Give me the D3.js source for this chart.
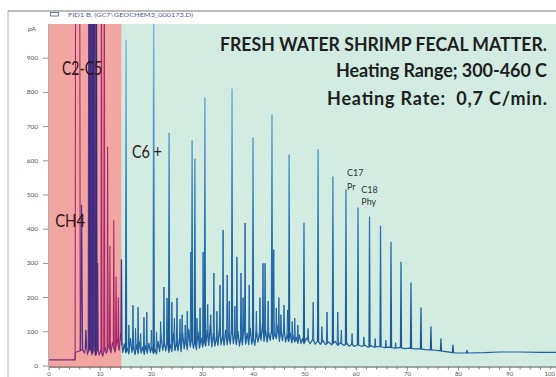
<!DOCTYPE html>
<html><head><meta charset="utf-8">
<script src="https://cdn.jsdelivr.net/npm/d3@7"></script>
<style>body{margin:0;background:#fff;} svg{display:block;} text{white-space:pre;}</style>
</head><body>
<script>
// ---------- data ----------
const xTicks = [0,10,20,30,40,50,60,70,80,90,100];
const yTicks = [0,100,200,300,400,500,600,700,800,900];
const regionBreak = 14.2;   // minutes: C2-C5 zone | C6+ zone

// noisy baseline of the FID trace (time in min, signal in pA)
const baseTimes  = [0,5.1,5.15,6.6,6.9,7.3,7.5,8.1,8.4,8.8,9.1,9.5,9.8,10.1,10.5,11.0,11.2,11.7,12.1,12.4,12.9,13.3,13.7,14.0,
  14.4,14.7,15.0,15.3,15.6,15.9,16.2,16.5,16.8,17.1,17.4,17.7,18.0,18.3,18.6,18.9,19.2,19.5,19.8,20.1,20.4,20.7,21.0,21.3,21.6,21.9,
  22.2,22.5,22.8,23.1,23.4,23.7,24.0,24.3,24.6,24.9,25.2,25.5,25.8,26.1,26.4,26.7,27.0,27.3,27.6,27.9,28.2,28.5,28.8,29.1,29.4,29.7,
  30.0,30.3,30.6,30.9,31.2,31.5,31.8,32.1,32.4,32.7,33.0,33.3,33.6,33.9,34.2,34.5,34.8,35.1,35.4,35.7,36.0,36.3,36.6,36.9,37.2,37.5,
  37.8,38.1,38.4,38.7,39.0,39.3,39.6,39.9,40.2,40.5,40.8,41.1,41.4,41.7,42.0,42.3,42.6,42.9,43.2,43.5,43.8,44.1,44.4,44.7,45.0,45.3,
  45.6,45.9,46.2,46.5,46.8,47.1,47.4,47.7,48.0,48.3,48.6,48.9,49.2,49.5,49.8,50.3,51.0,51.5,52.0,52.5,53.0,53.5,54.0,54.6,55.2,55.9,
  56.4,56.9,57.6,58.2,58.6,59.2,59.6,60.3,61.1,61.7,62.3,63.0,63.5,64.5,65.5,66.5,67.5,68.5,69.5,70.5,71.5,72.5,73.5,74.5,75.5,76.5,
  77.5,78.5,79.5,82,85,88,92,96,100];
const baseValues = [18,18,40,47,38,62,35,55,32,58,30,50,33,45,30,55,36,60,38,70,40,80,45,95,
  40,65,38,52,35,80,40,58,33,62,36,70,38,55,34,60,37,66,40,55,36,48,35,72,42,88,
  46,70,44,78,40,62,42,95,45,70,44,85,42,98,50,80,48,108,55,88,52,75,48,100,52,82,
  55,78,58,105,60,118,56,95,58,85,60,112,62,90,60,105,62,95,64,118,65,98,62,102,58,88,
  62,128,64,96,62,110,64,85,60,100,70,95,75,122,72,105,70,98,75,110,78,96,80,118,72,105,
  74,112,70,92,72,96,68,88,70,84,66,90,66,80,65,82,65,78,64,74,63,75,62,70,62,72,
  60,68,60,66,58,64,57,62,57,61,55,59,55,57,54,55,52,54,51,52,50,50,48,47,46,44,
  42,40,38,38,39,41,41,40,40];

// light gases zone (CH4, C2-C5): time, height (pA), half-width (min), colour kind
const lightT = [5.6, 6.35, 7.2, 7.8, 8.1, 8.4, 8.65, 8.95, 9.25, 9.5, 10.25, 10.8, 11.45, 11.9, 12.65, 13.1, 13.55, 14.15];
const lightH = [6000, 470, 105, 1500, 2200, 1700, 2600, 1800, 1300, 300, 1400, 1300, 640, 350, 425, 260, 200, 310];
const lightW = [0.5, 0.2, 0.12, 0.12, 0.14, 0.12, 0.14, 0.12, 0.12, 0.1, 0.1, 0.1, 0.1, 0.1, 0.1, 0.1, 0.1, 0.1];
const lightKind = ['m','p','p','p','n','p','n','p','n','p','m','m','m','m','m','m','m','p'];

// C6+ main peaks: time, height (pA)
const mainT = [15.05,20.45,23.45,27.95,28.5,30.45,35.75,39.85,43.55,46.9,49.8,52.55,55.45,58.0,60.35,62.6,64.75,66.8,68.75,70.7,72.65,74.6,76.55,78.9,81.65];
const mainH = [953,1300,681,658,605,784,810,667,734,617,418,632,553,515,462,436,409,362,304,243,170,114,79,61,46];

// C6+ minor peaks: time, height (pA)
const minorT = [15.6,16.4,16.9,17.4,17.9,18.55,19.1,20.0,21.0,21.8,22.45,23.05,24.0,24.5,25.0,25.6,26.0,26.6,27.0,27.7,28.9,29.5,30.1,31.0,31.6,32.2,32.8,33.4,34.0,34.8,35.2,36.3,36.7,37.5,37.9,38.3,39.1,40.5,41.2,41.8,42.2,42.8,43.9,44.4,44.9,45.3,45.9,46.6,47.5,48.0,48.6,50.6,51.6,53.3,54.3,56.4,57.1,59.2,61.5,63.7,65.8,67.7];
const minorH = [120,178,110,172,95,143,158,105,100,130,231,199,187,140,199,137,150,120,160,333,140,170,333,180,150,272,160,237,398,266,190,175,319,272,200,418,237,160,200,300,300,190,340,170,200,150,178,164,130,140,120,110,187,115,158,158,105,95,85,80,75,68];

const peakLabels = [
  {text:"C17", t:58.0, v:557},
  {text:"Pr",  t:58.0, v:516},
  {text:"C18", t:60.8, v:507},
  {text:"Phy", t:60.8, v:470}
];
const zoneLabels = [
  {text:"C2-C5", t:2.55, v:852, len:40, size:19},
  {text:"CH4",   t:1.2,  v:405, len:30, size:18},
  {text:"C6 +",  t:16.2, v:609, len:30, size:17}
];
const titleLines = [
  {text:"FRESH WATER SHRIMP FECAL MATTER.", v:921, len:327, adj:"spacingAndGlyphs"},
  {text:"Heating Range; 300-460 C",        v:844, len:211, adj:"spacing"},
  {text:"Heating Rate:  0,7 C/min.",       v:763, len:220, adj:"spacing"}
];

// ---------- drawing ----------
const W = 556, H = 377;
const x = d3.scaleLinear().domain([0,100]).range([49,561]);
const y = d3.scaleLinear().domain([0,1000]).range([366,24]);

const svg = d3.select("body").append("svg").attr("width",W).attr("height",H)
  .style("font-family","Lato, 'Open Sans', sans-serif");
const defs = svg.append("defs");

defs.append("clipPath").attr("id","plotClip").append("rect")
  .attr("x",49).attr("y",24).attr("width",W-49).attr("height",344);
defs.append("clipPath").attr("id","pinkClip").append("rect")
  .attr("x",49).attr("y",24).attr("width",x(regionBreak)-49).attr("height",344);
defs.append("clipPath").attr("id","greenClip").append("rect")
  .attr("x",x(regionBreak)).attr("y",24).attr("width",W-x(regionBreak)).attr("height",344);

const grad = defs.append("linearGradient").attr("id","blueGrad")
  .attr("gradientUnits","userSpaceOnUse").attr("x1",0).attr("y1",366).attr("x2",0).attr("y2",24);
grad.append("stop").attr("offset","0").attr("stop-color","#17558f");
grad.append("stop").attr("offset","0.35").attr("stop-color","#2470b2");
grad.append("stop").attr("offset","1").attr("stop-color","#7cb9e4");

// window frame & header
svg.append("line").attr("x1",8).attr("x2",8).attr("y1",11).attr("y2",H).attr("stroke","#b4b4b4");
svg.append("line").attr("x1",8).attr("x2",W).attr("y1",11).attr("y2",11).attr("stroke","#777");
svg.append("rect").attr("x",50.5).attr("y",12.5).attr("width",8).attr("height",3.5)
  .attr("fill","none").attr("stroke","#4a5cb0").attr("stroke-width",0.8);
svg.append("text").attr("x",68).attr("y",17).attr("font-size",5.5).attr("fill","#4a5aa8")
  .attr("textLength",125).attr("lengthAdjust","spacingAndGlyphs")
  .text("FID1 B, (GC7\\GEOCHEM3_000173.D)");

// zone backgrounds
svg.append("rect").attr("x",49).attr("y",24).attr("width",x(regionBreak)-49).attr("height",344).attr("fill","#f2a6a1");
svg.append("rect").attr("x",x(regionBreak)).attr("y",24).attr("width",W-x(regionBreak)).attr("height",344).attr("fill","#d3ece2");

// axes
const yAx = svg.append("g");
yTicks.forEach(v=>{
  yAx.append("line").attr("x1",43).attr("x2",48).attr("y1",y(v)).attr("y2",y(v)).attr("stroke","#777").attr("stroke-width",0.8);
  yAx.append("text").attr("x",38).attr("y",y(v)+2).attr("text-anchor","end").attr("font-size",6.5).attr("fill","#555").text(v);
});
yAx.append("text").attr("x",36).attr("y",31).attr("text-anchor","end").attr("font-size",6.5).attr("fill","#555").text("pA");
svg.append("line").attr("x1",48.5).attr("x2",48.5).attr("y1",24).attr("y2",367).attr("stroke","#999").attr("stroke-width",0.8);

const xAx = svg.append("g");
svg.append("line").attr("x1",49).attr("x2",W).attr("y1",367).attr("y2",367).attr("stroke","#666");
d3.range(0,101,2).forEach(t=>{
  const major = xTicks.includes(t);
  xAx.append("line").attr("x1",x(t)).attr("x2",x(t)).attr("y1",367).attr("y2",major?370.5:369.5).attr("stroke","#666").attr("stroke-width",0.8);
});
xTicks.forEach(t=>{
  const edge = x(t) > W - 8;
  xAx.append("text").attr("x",edge ? W-1 : x(t)).attr("y",376.3)
    .attr("text-anchor",edge ? "end" : "middle").attr("font-size",6).attr("fill","#555").text(t);
});

// trace helpers
function baseAt(t){
  const i = d3.bisectRight(baseTimes,t);
  if(i<=0) return baseValues[0];
  if(i>=baseTimes.length) return baseValues[baseValues.length-1];
  const t0=baseTimes[i-1], t1=baseTimes[i], v0=baseValues[i-1], v1=baseValues[i];
  return v0+(v1-v0)*(t-t0)/(t1-t0);
}
const line = d3.line().x(d=>x(d[0])).y(d=>y(d[1]));
const spike = (t,h,w)=>[[t-w,baseAt(t-w)],[t,h],[t+w,baseAt(t+w)]];
const basePts = baseTimes.map((t,i)=>[t,baseValues[i]]);

const plot = svg.append("g").attr("clip-path","url(#plotClip)");
// baseline: purple in light zone, blue in C6+ zone
plot.append("g").attr("clip-path","url(#pinkClip)").append("path").attr("d",line(basePts))
  .attr("fill","none").attr("stroke","#7a2a7e").attr("stroke-width",1.1);
plot.append("g").attr("clip-path","url(#greenClip)").append("path").attr("d",line(basePts))
  .attr("fill","none").attr("stroke","#1d5e9f").attr("stroke-width",1.2).attr("stroke-linejoin","round");

// light zone peaks
const lightColor = {m:"#a8276d", p:"#55308a", n:"#3b2a78"};
lightT.forEach((t,i)=>{
  plot.append("path").attr("d",line(spike(t,lightH[i],lightW[i])))
    .attr("fill","none").attr("stroke",lightColor[lightKind[i]])
    .attr("stroke-width",lightKind[i]==='m'?1.1:1.3).attr("stroke-linejoin","round");
});
// minor C6+ peaks
minorT.forEach((t,i)=>{
  plot.append("path").attr("d",line(spike(t,minorH[i],0.12)))
    .attr("fill","none").attr("stroke","#1f64a6").attr("stroke-width",1).attr("stroke-linejoin","round");
});
// main C6+ peaks
mainT.forEach((t,i)=>{
  plot.append("path").attr("d",line(spike(t,mainH[i],0.1)))
    .attr("fill","none").attr("stroke","url(#blueGrad)").attr("stroke-width",1.3).attr("stroke-linejoin","round");
});

// annotations
zoneLabels.forEach(d=>{
  svg.append("text").attr("x",x(d.t)).attr("y",y(d.v)).attr("font-size",d.size).attr("fill","#2b1518")
    .attr("textLength",d.len).attr("lengthAdjust","spacingAndGlyphs").text(d.text);
});
peakLabels.forEach(d=>{
  svg.append("text").attr("x",x(d.t)+1).attr("y",y(d.v)).attr("font-size",9).attr("fill","#333").text(d.text);
});
titleLines.forEach(d=>{
  svg.append("text").attr("x",547).attr("y",y(d.v)).attr("text-anchor","end").attr("font-size",18)
    .attr("font-weight","bold").attr("fill","#1e1e1e")
    .attr("textLength",d.len).attr("lengthAdjust",d.adj).text(d.text);
});
</script>
</body></html>
